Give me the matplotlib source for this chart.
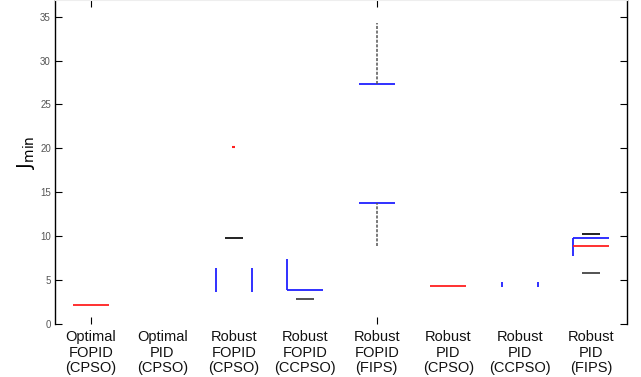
import numpy as np
import matplotlib
matplotlib.use("Agg")
import matplotlib.pyplot as plt

plt.rcParams["font.family"] = ["Liberation Sans", "DejaVu Sans"]

# ---------------------------------------------------------------------------
# data (J_min per controller / optimiser)
# ---------------------------------------------------------------------------
labels = ["Optimal\nFOPID\n(CPSO)", "Optimal\nPID\n(CPSO)",
          "Robust\nFOPID\n(CPSO)", "Robust\nFOPID\n(CCPSO)",
          "Robust\nFOPID\n(FIPS)", "Robust\nPID\n(CPSO)",
          "Robust\nPID\n(CCPSO)", "Robust\nPID\n(FIPS)"]
nan = np.nan
median = [2.17, nan, nan, nan, nan, 4.33, nan, 8.9]
box_lo = [nan, nan, 3.6, 3.9, 13.8, nan, 4.2, 7.75]
box_hi = [nan, nan, 6.4, 7.4, 27.3, nan, 4.8, 9.8]
cap_hi = [nan, nan, 9.8, nan, nan, nan, nan, 10.26]
cap_lo = [nan, nan, nan, 2.85, nan, nan, nan, 5.8]
whisk_lo = [nan, nan, nan, nan, 8.9, nan, nan, nan]
whisk_hi = [nan, nan, nan, nan, 34.3, nan, nan, nan]
outlier = [nan, nan, 20.2, nan, nan, nan, nan, nan]
# which box edges survived in the original render (L, R, T, B)
edges = ["", "", "LR", "LB", "TB", "", "LR", "LT"]

BLUE = "#2020ff"
RED = "#ff2020"
W = 0.25     # box half width
CW = 0.125   # cap half width

fig = plt.figure(figsize=(6.41, 3.77), dpi=100)
ax = fig.add_axes([55 / 641, 1 - 324 / 377, (627 - 55) / 641, 324 / 377])

pos = np.arange(1, len(labels) + 1)
for x, m, lo, hi, chi, clo, wl, wh, out, e in zip(
        pos, median, box_lo, box_hi, cap_hi, cap_lo,
        whisk_lo, whisk_hi, outlier, edges):
    if "L" in e:
        ax.vlines(x - W, lo, hi, color=BLUE, lw=1.3)
    if "R" in e:
        ax.vlines(x + W, lo, hi, color=BLUE, lw=1.3)
    if "T" in e:
        ax.hlines(hi, x - W, x + W, color=BLUE, lw=1.3)
    if "B" in e:
        ax.hlines(lo, x - W, x + W, color=BLUE, lw=1.3)
    if not np.isnan(m):
        ax.hlines(m, x - W, x + W, color=RED, lw=1.3)
    if not np.isnan(chi):
        ax.hlines(chi, x - CW, x + CW, color="#111111", lw=1.3)
    if not np.isnan(clo):
        ax.hlines(clo, x - CW, x + CW, color="#444444", lw=1.3)
    if not np.isnan(wl):
        ax.vlines(x, wl, lo, color="#555555", lw=1.1, linestyles=(0, (2, 1)))
        ax.vlines(x, hi, wh, color="#555555", lw=1.1, linestyles=(0, (2, 1)))
    if not np.isnan(out):
        ax.hlines(out, x - 0.02, x + 0.02, color=RED, lw=1.5)

ax.set_xlim(0.5, 8.5)
ax.set_ylim(0, 36.9)
ax.set_yticks(np.arange(0, 36, 5))
ax.set_xticks([1, 5])
ax.set_xticklabels([])
ax.tick_params(axis="y", direction="in", length=5, labelsize=7,
               labelcolor="#555555", right=True, pad=3)
ax.tick_params(axis="x", direction="in", length=5, top=True)
ax.spines["bottom"].set_visible(False)
ax.spines["top"].set_color("#eeeeee")
for s in ("left", "right"):
    ax.spines[s].set_linewidth(1.0)

# category labels under the axis, three lines each
for x, lab in zip(pos, labels):
    ax.text(x, -0.7, lab, ha="center", va="top", fontsize=10.5,
            linespacing=1.15, color="#111111")

ax.set_ylabel(r"$\mathrm{J}_{\mathrm{min}}$", fontsize=14)
ax.yaxis.set_label_coords(-0.032, 0.53)

fig.savefig("out.png", dpi=100)
